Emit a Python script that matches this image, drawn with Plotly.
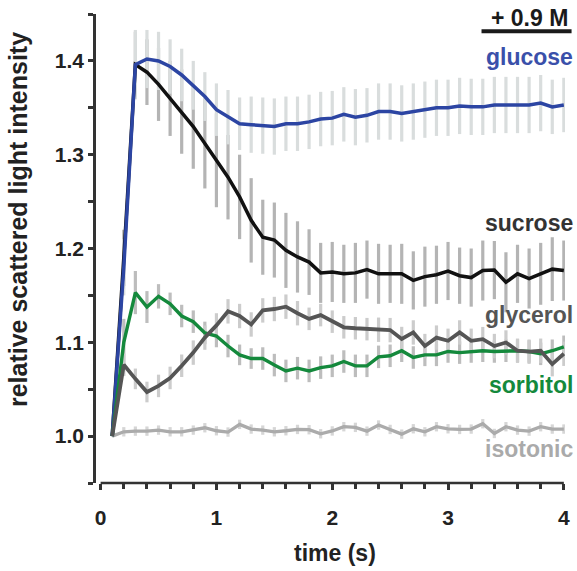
import plotly.graph_objects as go

# time points (s)
time_s = [round(0.1 * i, 1) for i in range(1, 41)]

glucose = [1.000, 1.180, 1.396, 1.402, 1.400, 1.394, 1.385, 1.374, 1.362, 1.348,
           1.340, 1.333, 1.332, 1.331, 1.330, 1.333, 1.333, 1.335, 1.338, 1.339,
           1.343, 1.340, 1.342, 1.346, 1.346, 1.344, 1.346, 1.348, 1.350, 1.350,
           1.352, 1.351, 1.351, 1.353, 1.353, 1.353, 1.353, 1.355, 1.351, 1.353]
glucose_err = [0.0, 0.030, 0.037, 0.031, 0.031, 0.029, 0.028, 0.026, 0.026, 0.028,
               0.029, 0.028, 0.030, 0.030, 0.030, 0.029, 0.029, 0.029, 0.029, 0.029,
               0.029, 0.030, 0.029, 0.030, 0.030, 0.030, 0.030, 0.030, 0.030, 0.030,
               0.030, 0.030, 0.030, 0.030, 0.030, 0.030, 0.030, 0.030, 0.029, 0.029]

sucrose = [1.000, 1.190, 1.396, 1.388, 1.375, 1.360, 1.346, 1.330, 1.312, 1.294,
           1.276, 1.255, 1.230, 1.212, 1.209, 1.198, 1.191, 1.1855, 1.174, 1.175,
           1.173, 1.174, 1.1775, 1.173, 1.173, 1.173, 1.166, 1.170, 1.172, 1.176,
           1.171, 1.169, 1.1765, 1.177, 1.164, 1.173, 1.168, 1.173, 1.178, 1.1765]
sucrose_err = [0.0, 0.030, 0.035, 0.035, 0.039, 0.040, 0.045, 0.045, 0.048, 0.050,
               0.045, 0.045, 0.045, 0.040, 0.040, 0.040, 0.038, 0.035, 0.032, 0.032,
               0.031, 0.032, 0.031, 0.032, 0.031, 0.032, 0.031, 0.032, 0.031, 0.031,
               0.030, 0.031, 0.032, 0.031, 0.032, 0.031, 0.032, 0.033, 0.034, 0.032]

glycerol = [1.000, 1.076, 1.061, 1.047, 1.0535, 1.062, 1.075, 1.089, 1.105, 1.118,
            1.133, 1.128, 1.119, 1.134, 1.1355, 1.138, 1.131, 1.125, 1.129, 1.122,
            1.116, 1.115, 1.114, 1.1134, 1.113, 1.1035, 1.1105, 1.096, 1.105, 1.1016,
            1.1105, 1.1016, 1.1034, 1.096, 1.0998, 1.091, 1.090, 1.091, 1.0767, 1.0878]
glycerol_err = [0.0, 0.012, 0.011, 0.011, 0.012, 0.012, 0.012, 0.013, 0.013, 0.013,
                0.013, 0.013, 0.013, 0.013, 0.013, 0.013, 0.013, 0.012, 0.012, 0.012,
                0.012, 0.012, 0.012, 0.013, 0.013, 0.013, 0.013, 0.013, 0.013, 0.013,
                0.013, 0.013, 0.013, 0.013, 0.013, 0.013, 0.013, 0.013, 0.013, 0.013]

sorbitol = [1.000, 1.100, 1.153, 1.1376, 1.149, 1.141, 1.128, 1.122, 1.110, 1.1067,
            1.096, 1.0866, 1.0827, 1.0827, 1.0757, 1.0695, 1.0724, 1.0695, 1.073, 1.0749,
            1.0795, 1.0749, 1.0749, 1.0845, 1.0856, 1.091, 1.0838, 1.0866, 1.0866, 1.0902,
            1.089, 1.0902, 1.091, 1.0902, 1.091, 1.091, 1.0902, 1.0877, 1.091, 1.0952]
sorbitol_err = [0.0, 0.025, 0.023, 0.017, 0.013, 0.012, 0.012, 0.012, 0.012, 0.012,
                0.012, 0.011, 0.011, 0.012, 0.012, 0.012, 0.012, 0.012, 0.012, 0.012,
                0.012, 0.012, 0.012, 0.012, 0.012, 0.012, 0.012, 0.012, 0.012, 0.012,
                0.012, 0.012, 0.012, 0.012, 0.012, 0.012, 0.012, 0.012, 0.012, 0.012]

isotonic = [1.000, 1.0046, 1.0053, 1.0053, 1.0064, 1.0046, 1.0046, 1.0064, 1.0089, 1.0057,
            1.0043, 1.0125, 1.0075, 1.0064, 1.0046, 1.0057, 1.0071, 1.0068, 1.0025, 1.0055,
            1.010, 1.0093, 1.0053, 1.0118, 1.0071, 1.0021, 1.0078, 1.0046, 1.010, 1.0078,
            1.0071, 1.0075, 1.0132, 1.0028, 1.010, 1.0064, 1.0053, 1.010, 1.0075, 1.0075]
isotonic_err = [0.0] + [0.005] * 39

x_ticks = [0, 1, 2, 3, 4]
y_ticks = [1.0, 1.1, 1.2, 1.3, 1.4]
y_tick_labels = ["1.0", "1.1", "1.2", "1.3", "1.4"]

FONT = "Liberation Sans, Arial, Helvetica, sans-serif"

series = [
    # name, values, errors, line colour, bar colour, line width
    ("isotonic", isotonic, isotonic_err, "#ababab", "#d6d6d6", 3.3),
    ("sucrose", sucrose, sucrose_err, "#111111", "#b4b4b4", 3.5),
    ("glucose", glucose, glucose_err, "#2c45a3", "#d9dddd", 3.5),
    ("sorbitol", sorbitol, sorbitol_err, "#14893c", "#bdbdbd", 3.4),
    ("glycerol", glycerol, glycerol_err, "#555555", "#cccccc", 3.8),
]

fig = go.Figure()

# error bars first (behind all lines)
for name, vals, errs, lc, bc, lw in series:
    fig.add_trace(go.Scatter(
        x=time_s, y=vals, mode="markers",
        marker=dict(size=2, opacity=0),
        error_y=dict(type="data", array=errs, thickness=3.2, width=0, color=bc),
        showlegend=False, hoverinfo="skip"))

for name, vals, errs, lc, bc, lw in series:
    fig.add_trace(go.Scatter(
        x=time_s, y=vals, mode="lines", name=name,
        line=dict(color=lc, width=lw), showlegend=False))

label_specs = [
    ("glucose", "#3a50aa", 0.908),
    ("sucrose", "#333333", 0.5545),
    ("glycerol", "#555555", 0.358),
    ("sorbitol", "#14893c", 0.209),
    ("isotonic", "#aaaaaa", 0.0716),
]
annotations = []
for text, col, yp in label_specs:
    annotations.append(dict(
        text=text, x=1.022, y=yp, xref="paper", yref="paper",
        xanchor="right", yanchor="middle", showarrow=False,
        font=dict(family=FONT, size=23, color=col, weight="bold")))

annotations.append(dict(
    text="+ 0.9 M", x=1.01, y=0.991, xref="paper", yref="paper",
    xanchor="right", yanchor="middle", showarrow=False,
    font=dict(family=FONT, size=23, color="#1a1a1a", weight="bold")))

annotations.append(dict(
    text="relative scattered light intensity", x=-0.166, y=0.561,
    xref="paper", yref="paper", xanchor="center", yanchor="middle",
    textangle=-90, showarrow=False,
    font=dict(family=FONT, size=25, color="#222222", weight="bold")))

annotations.append(dict(
    text="time (s)", x=0.5096, y=-0.1485, xref="paper", yref="paper",
    xanchor="center", yanchor="middle", showarrow=False,
    font=dict(family=FONT, size=23, color="#222222", weight="bold")))

shapes = [
    # x axis baseline (spans 0..4 only)
    dict(type="line", xref="x", yref="paper", x0=0, x1=4, y0=0, y1=0,
         line=dict(color="#333333", width=2.5)),
    # treatment bar
    dict(type="line", xref="paper", yref="paper", x0=0.822, x1=1.014,
         y0=0.963, y1=0.963, line=dict(color="#1a1a1a", width=4)),
]

fig.update_layout(
    width=577, height=571,
    margin=dict(l=96, r=12, t=14, b=88, autoexpand=False),
    paper_bgcolor="white", plot_bgcolor="white",
    annotations=annotations, shapes=shapes,
    xaxis=dict(
        range=[-0.04, 4.01], showgrid=False, zeroline=False, showline=False,
        tickvals=x_ticks, ticks="outside", ticklen=6, tickwidth=2.5,
        tickcolor="#333333", ticklabelstandoff=10,
        tickfont=dict(family=FONT, size=21, color="#222222", weight="bold"),
        minor=dict(dtick=0.2, tick0=0, ticks="outside", ticklen=5,
                   tickwidth=2.5, tickcolor="#333333", showgrid=False),
    ),
    yaxis=dict(
        range=[0.95, 1.45], showgrid=False, zeroline=False, showline=True,
        linecolor="#333333", linewidth=2.5,
        tickvals=y_ticks, ticktext=y_tick_labels, ticks="outside",
        ticklen=5, tickwidth=2.5, tickcolor="#333333",
        tickfont=dict(family=FONT, size=21, color="#222222", weight="bold"),
        minor=dict(dtick=0.05, tick0=0.95, ticks="outside", ticklen=5,
                   tickwidth=2.5, tickcolor="#333333", showgrid=False),
    ),
)

fig.write_html(
    "out.html",
    config={"displayModeBar": False},
    post_script="document.body.style.margin='0px';document.body.style.overflow='hidden';")
